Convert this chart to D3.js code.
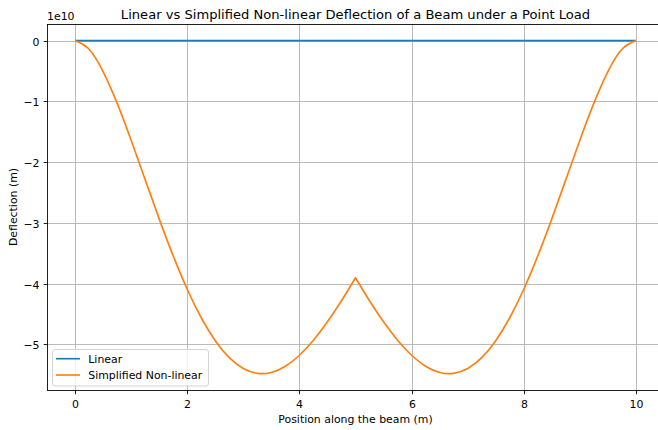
<!DOCTYPE html>
<html>
<head>
<meta charset="utf-8">
<script src="https://cdn.jsdelivr.net/npm/d3@7"></script>
<style>
  html, body { margin: 0; padding: 0; background: #fff; }
  svg { display: block; font-family: "DejaVu Sans", sans-serif; }
</style>
</head>
<body>
<svg id="chart" width="658" height="430"></svg>
<script>
// ---- data (deflection values in units of 1e10 m) ----
const positions = [0, 0.25, 0.5, 0.75, 1, 1.25, 1.5, 1.75, 2, 2.25, 2.5, 2.75, 3, 3.25, 3.5, 3.75, 4, 4.25, 4.5, 4.75, 5,
                   5.25, 5.5, 5.75, 6, 6.25, 6.5, 6.75, 7, 7.25, 7.5, 7.75, 8, 8.25, 8.5, 8.75, 9, 9.25, 9.5, 9.75, 10];
const linearE10 = [0,0,0,0,0,0,0,0,0,0,0,0,0,0,0,0,0,0,0,0,0,0,0,0,0,0,0,0,0,0,0,0,0,0,0,0,0,0,0,0,0];
const nonlinearE10 = [0, -0.141, -0.508, -1.028, -1.638, -2.287, -2.933, -3.542, -4.091, -4.560, -4.937, -5.217, -5.395, -5.475, -5.460, -5.358, -5.177, -4.930, -4.627, -4.280, -3.901,
                      -4.280, -4.627, -4.930, -5.177, -5.358, -5.460, -5.475, -5.395, -5.217, -4.937, -4.560, -4.091, -3.542, -2.933, -2.287, -1.638, -1.028, -0.508, -0.141, 0];
const xTicks = [0, 2, 4, 6, 8, 10];
const yTicks = [0, -1, -2, -3, -4, -5];
const seriesNames = ["Linear", "Simplified Non-linear"];
const seriesColors = ["#1f77b4", "#ff7f0e"];
const titleText = "Linear vs Simplified Non-linear Deflection of a Beam under a Point Load";
const xLabel = "Position along the beam (m)";
const yLabel = "Deflection (m)";
const offsetText = "1e10";

// ---- layout ----
const L = 47, R = 664, T = 24, B = 390;
const svg = d3.select("#chart");
svg.append("rect").attr("width", 658).attr("height", 430).attr("fill", "#fff");

const allY = linearE10.concat(nonlinearE10);
const yMin = d3.min(allY), yMax = d3.max(allY);
const yPad = (yMax - yMin) * 0.05;
const xMin = d3.min(positions), xMax = d3.max(positions);
const xPad = (xMax - xMin) * 0.05;

const x = d3.scaleLinear().domain([xMin - xPad, xMax + xPad]).range([L, R]);
const y = d3.scaleLinear().domain([yMin - yPad, yMax + yPad]).range([B, T]);

const minus = s => String(s).replace("-", "\u2212");

// grid
const grid = svg.append("g");
xTicks.forEach(t => {
  const px = Math.round(x(t)) + 0.5;
  grid.append("line").attr("x1", px).attr("x2", px).attr("y1", T).attr("y2", B)
    .attr("stroke", "#b0b0b0").attr("stroke-width", 0.87);
});
yTicks.forEach(t => {
  const py = Math.round(y(t)) + 0.5;
  grid.append("line").attr("x1", L).attr("x2", R).attr("y1", py).attr("y2", py)
    .attr("stroke", "#b0b0b0").attr("stroke-width", 0.87);
});

// lines
const pts = d => positions.map((p, i) => [p, d[i]]);
const lineGen = d3.line().x(d => x(d[0])).y(d => y(d[1])).curve(d3.curveNatural);
svg.append("path").attr("d", lineGen(pts(linearE10)))
  .attr("fill", "none").attr("stroke", seriesColors[0]).attr("stroke-width", 1.64);
// nonlinear drawn in two halves so the cusp at mid-span stays sharp
const nl = pts(nonlinearE10);
const mid = positions.indexOf(5);
const nlPath = lineGen(nl.slice(0, mid + 1)) + lineGen(nl.slice(mid)).replace(/^M/, "L");
svg.append("path").attr("d", nlPath)
  .attr("fill", "none").attr("stroke", seriesColors[1]).attr("stroke-width", 1.64)
  .attr("stroke-linejoin", "round");

// spines
const sp = svg.append("g").attr("stroke", "#000").attr("stroke-width", 0.87).attr("fill", "none");
sp.append("rect").attr("x", L + 0.5).attr("y", T + 0.5).attr("width", R - L).attr("height", B - T);

// x ticks
const fs = 10.9;
xTicks.forEach(t => {
  const px = Math.round(x(t)) + 0.5;
  svg.append("line").attr("x1", px).attr("x2", px).attr("y1", B + 0.5).attr("y2", B + 4.3)
    .attr("stroke", "#000").attr("stroke-width", 0.87);
  svg.append("text").attr("x", px).attr("y", 408).attr("text-anchor", "middle")
    .attr("font-size", fs).attr("fill", "#000").text(minus(t));
});
// y ticks
yTicks.forEach(t => {
  const py = Math.round(y(t)) + 0.5;
  svg.append("line").attr("x1", L + 0.5).attr("x2", L - 3.3).attr("y1", py).attr("y2", py)
    .attr("stroke", "#000").attr("stroke-width", 0.87);
  svg.append("text").attr("x", 39.5).attr("y", py + 4).attr("text-anchor", "end")
    .attr("font-size", fs).attr("fill", "#000").text(minus(t));
});

// offset text
svg.append("text").attr("x", 47).attr("y", 20).attr("font-size", fs).attr("fill", "#000").text(offsetText);

// title & labels
svg.append("text").attr("x", (L + R) / 2).attr("y", 18.5).attr("text-anchor", "middle")
  .attr("font-size", 13.1).attr("fill", "#000").text(titleText);
svg.append("text").attr("x", (L + R) / 2).attr("y", 423).attr("text-anchor", "middle")
  .attr("font-size", fs).attr("fill", "#000").text(xLabel);
svg.append("text").attr("transform", `translate(16.5,${(T + B) / 2}) rotate(-90)`)
  .attr("text-anchor", "middle").attr("font-size", fs).attr("fill", "#000").text(yLabel);

// legend
const lg = svg.append("g");
lg.append("rect").attr("x", 52.5).attr("y", 349.5).attr("width", 156).attr("height", 36.5)
  .attr("rx", 2.5).attr("fill", "#fff").attr("fill-opacity", 0.8)
  .attr("stroke", "#cccccc").attr("stroke-width", 0.87);
seriesNames.forEach((n, i) => {
  const ly = 358.7 + i * 16.3;
  lg.append("line").attr("x1", 56).attr("x2", 80).attr("y1", ly).attr("y2", ly)
    .attr("stroke", seriesColors[i]).attr("stroke-width", 1.64);
  lg.append("text").attr("x", 88.3).attr("y", ly + 4.2).attr("font-size", fs).attr("fill", "#000").text(n);
});
</script>
</body>
</html>
